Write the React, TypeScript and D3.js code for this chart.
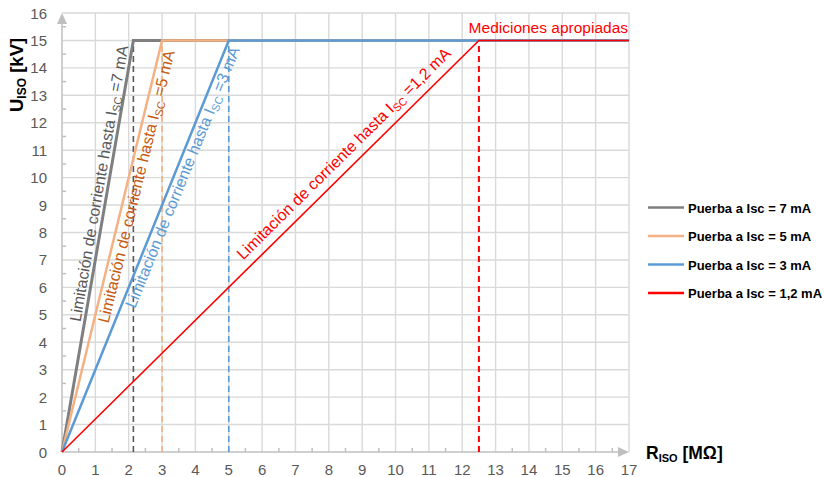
import * as d3 from "d3"
import { useEffect, useRef } from "react"

const W = 824
const H = 477
const margin = { top: 13, right: 195, bottom: 25, left: 62 }
const FONT = "'Liberation Sans', Arial, sans-serif"

const xTicks = d3.range(0, 18)
const yTicks = d3.range(0, 17)

// limiting currents and the resistance where each reaches 15 kV
const currentLabels = ["7", "5", "3", "1,2"]
const kneeR = [2.14, 3, 5, 12.5]
const kneeU = [15, 15, 15, 15]
const endR = [17, 17, 17, 17]
const lineColors = ["#7f7f7f", "#f4b183", "#5b9bd5", "#ff0000"]
const textColors = ["#595959", "#c55a11", "#5b9bd5", "#ff0000"]
const lineWidths = [3, 2.5, 2.5, 1.6]
const dashWidths = [1.6, 1.6, 1.6, 2]
// where each label starts along its line (kV) and its distance from it (+ above, - below)
const labelStartU = [4.7, 4.8, 5.4, 6.75]
const labelOffset = [4, -15, -14, 9]
const legendLabels = ["Puerba a Isc = 7 mA", "Puerba a Isc = 5 mA", "Puerba a Isc = 3 mA", "Puerba a Isc = 1,2 mA"]

export default function App() {
  const svgRef = useRef<SVGSVGElement | null>(null)

  useEffect(() => {
    if (!svgRef.current) return
    const svg = d3.select(svgRef.current)
    svg.selectAll("*").remove()

    const x = d3.scaleLinear().domain([0, 17]).range([margin.left, 629])
    const y = d3.scaleLinear().domain([0, 16]).range([452, margin.top])

    // Grid
    const grid = svg.append("g").attr("stroke", "#d9d9d9").attr("stroke-width", 1.4)
    grid
      .selectAll("line.v")
      .data(xTicks.slice(1))
      .enter()
      .append("line")
      .attr("x1", (d) => x(d))
      .attr("x2", (d) => x(d))
      .attr("y1", y(0))
      .attr("y2", y(16))
    grid
      .selectAll("line.h")
      .data(yTicks.slice(1))
      .enter()
      .append("line")
      .attr("x1", x(0))
      .attr("x2", x(17))
      .attr("y1", (d) => y(d))
      .attr("y2", (d) => y(d))

    // Axes with arrows
    const axisColor = "#bfbfbf"
    const axes = svg.append("g").attr("stroke", axisColor).attr("stroke-width", 1.5)
    axes.append("line").attr("x1", x(0)).attr("x2", x(17) - 8).attr("y1", y(0)).attr("y2", y(0))
    axes.append("line").attr("x1", x(0)).attr("x2", x(0)).attr("y1", y(0)).attr("y2", y(16) + 8)
    svg
      .append("path")
      .attr("d", `M${x(17)},${y(0)} l-11,-5 l0,10 z`)
      .attr("fill", axisColor)
    svg
      .append("path")
      .attr("d", `M${x(0)},${y(16)} l-5,11 l10,0 z`)
      .attr("fill", axisColor)

    // minor ticks at half steps
    axes
      .selectAll("line.mx")
      .data(d3.range(0.5, 17, 1))
      .enter()
      .append("line")
      .attr("x1", (d) => x(d))
      .attr("x2", (d) => x(d))
      .attr("y1", y(0))
      .attr("y2", y(0) - 4)
    axes
      .selectAll("line.my")
      .data(d3.range(0.5, 16, 1))
      .enter()
      .append("line")
      .attr("x1", x(0))
      .attr("x2", x(0) + 4)
      .attr("y1", (d) => y(d))
      .attr("y2", (d) => y(d))

    // Tick labels
    svg
      .append("g")
      .selectAll("text")
      .data(xTicks)
      .enter()
      .append("text")
      .attr("x", (d) => x(d))
      .attr("y", 475)
      .attr("text-anchor", "middle")
      .style("font-family", FONT)
      .style("font-size", "15px")
      .style("fill", "#595959")
      .text((d) => d)
    svg
      .append("g")
      .selectAll("text")
      .data(yTicks)
      .enter()
      .append("text")
      .attr("x", 47)
      .attr("y", (d) => y(d) + 5.5)
      .attr("text-anchor", "end")
      .style("font-family", FONT)
      .style("font-size", "15px")
      .style("fill", "#595959")
      .text((d) => d)

    // Dashed verticals at the knee points
    kneeR.forEach((r, i) => {
      svg
        .append("line")
        .attr("x1", x(r))
        .attr("x2", x(r))
        .attr("y1", y(0))
        .attr("y2", y(kneeU[i]))
        .attr("stroke", i === 0 ? "#595959" : lineColors[i])
        .attr("stroke-width", dashWidths[i])
        .attr("stroke-dasharray", "6,4")
    })

    // Series lines
    const line = d3
      .line<[number, number]>()
      .x((d) => x(d[0]))
      .y((d) => y(d[1]))
    kneeR.forEach((r, i) => {
      const pts: [number, number][] = [
        [0, 0],
        [r, kneeU[i]],
        [endR[i], kneeU[i]],
      ]
      svg
        .append("path")
        .attr("d", line(pts))
        .attr("fill", "none")
        .attr("stroke", lineColors[i])
        .attr("stroke-width", lineWidths[i])
        .attr("stroke-linejoin", "miter")
    })

    // Labels along the rising lines
    kneeR.forEach((r, i) => {
      const dx = x(r) - x(0)
      const dy = y(kneeU[i]) - y(0)
      const angle = (Math.atan2(dy, dx) * 180) / Math.PI
      const u = labelStartU[i]
      const px = x((u / kneeU[i]) * r)
      const py = y(u)
      const t = svg
        .append("text")
        .attr("transform", `translate(${px},${py}) rotate(${angle})`)
        .attr("y", -labelOffset[i])
        .style("font-family", FONT)
        .style("font-size", "16px")
        .style("fill", textColors[i])
      t.append("tspan").text("Limitación de corriente hasta I")
      t.append("tspan").attr("dy", 3).style("font-size", "11px").text("SC")
      t.append("tspan").attr("dy", -3).text(` =${currentLabels[i]} mA`)
    })

    // Mediciones apropiadas
    svg
      .append("text")
      .attr("x", 628)
      .attr("y", 33)
      .attr("text-anchor", "end")
      .style("font-family", FONT)
      .style("font-size", "15.5px")
      .style("fill", "#ff0000")
      .text("Mediciones apropiadas")

    // Axis titles
    const yt = svg
      .append("text")
      .attr("transform", "translate(23,112) rotate(-90)")
      .style("font-family", FONT)
      .style("font-size", "18.5px")
      .style("font-weight", "bold")
      .style("fill", "#000")
    yt.append("tspan").text("U")
    yt.append("tspan").attr("dy", 3).style("font-size", "12px").text("ISO")
    yt.append("tspan").attr("dy", -3).text(" [kV]")

    const xt = svg
      .append("text")
      .attr("x", 646)
      .attr("y", 459)
      .style("font-family", FONT)
      .style("font-size", "17.5px")
      .style("font-weight", "bold")
      .style("fill", "#000")
    xt.append("tspan").text("R")
    xt.append("tspan").attr("dy", 3).style("font-size", "11px").text("ISO")
    xt.append("tspan").attr("dy", -3).text(" [MΩ]")

    // Legend
    const legend = svg.append("g")
    legendLabels.forEach((lab, i) => {
      const ly = 207.5 + i * 28.5
      legend
        .append("line")
        .attr("x1", 648)
        .attr("x2", 684)
        .attr("y1", ly)
        .attr("y2", ly)
        .attr("stroke", lineColors[i])
        .attr("stroke-width", 2.5)
      legend
        .append("text")
        .attr("x", 688)
        .attr("y", ly + 5)
        .style("font-family", FONT)
        .style("font-size", "13px")
        .style("font-weight", "bold")
        .style("fill", "#000")
        .text(lab)
    })
  }, [])

  return (
    <svg
      ref={svgRef}
      width={W}
      height={H}
      style={{ position: "absolute", left: 0, top: 0, background: "#fff" }}
      xmlns="http://www.w3.org/2000/svg"
    />
  )
}
